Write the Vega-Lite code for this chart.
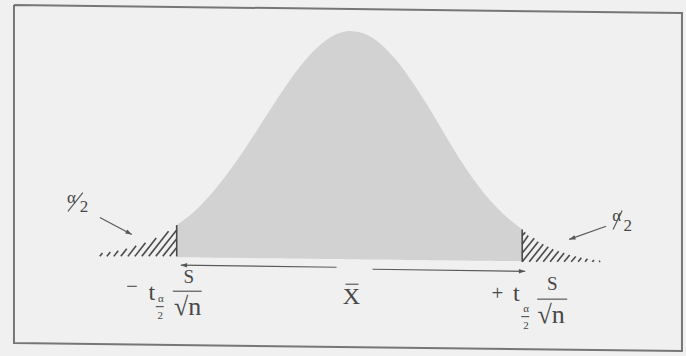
{
  "$schema": "https://vega.github.io/schema/vega-lite/v6.json",
  "width": 686,
  "height": 356,
  "autosize": {"type": "fit", "contains": "padding"},
  "padding": 0,
  "background": "#f0f0f0",
  "config": {"view": {"stroke": null}, "text": {"font": "Liberation Serif", "fill": "#474747", "align": "center", "baseline": "alphabetic"}},
  "datasets": {
    "frame": [
      {"k": 0, "x": -3.841, "y": 1.1145},
      {"k": 1, "x": 3.761, "y": 1.0793},
      {"k": 2, "x": 3.761, "y": -0.4141},
      {"k": 3, "x": -3.841, "y": -0.3789},
      {"k": 4, "x": -3.841, "y": 1.1145}
    ],
    "curve": [
      {"x": -1.989, "y": 0.142, "y2": 0.0},
      {"x": -1.841, "y": 0.184, "y2": -0.0003},
      {"x": -1.693, "y": 0.239, "y2": -0.001},
      {"x": -1.557, "y": 0.298, "y2": -0.0016},
      {"x": -1.386, "y": 0.383, "y2": -0.0024},
      {"x": -1.216, "y": 0.477, "y2": -0.0031},
      {"x": -1.08, "y": 0.558, "y2": -0.0038},
      {"x": -0.966, "y": 0.627, "y2": -0.0043},
      {"x": -0.852, "y": 0.696, "y2": -0.0048},
      {"x": -0.739, "y": 0.761, "y2": -0.0053},
      {"x": -0.625, "y": 0.823, "y2": -0.0059},
      {"x": -0.477, "y": 0.893, "y2": -0.0065},
      {"x": -0.33, "y": 0.947, "y2": -0.0072},
      {"x": -0.17, "y": 0.986, "y2": -0.008},
      {"x": -0.023, "y": 1.0, "y2": -0.0087},
      {"x": 0.148, "y": 0.988, "y2": -0.0094},
      {"x": 0.318, "y": 0.947, "y2": -0.0102},
      {"x": 0.489, "y": 0.88, "y2": -0.011},
      {"x": 0.625, "y": 0.812, "y2": -0.0116},
      {"x": 0.773, "y": 0.727, "y2": -0.0123},
      {"x": 0.92, "y": 0.636, "y2": -0.0129},
      {"x": 1.034, "y": 0.561, "y2": -0.0135},
      {"x": 1.148, "y": 0.487, "y2": -0.014},
      {"x": 1.261, "y": 0.416, "y2": -0.0145},
      {"x": 1.375, "y": 0.351, "y2": -0.015},
      {"x": 1.511, "y": 0.282, "y2": -0.0157},
      {"x": 1.648, "y": 0.222, "y2": -0.0163},
      {"x": 1.795, "y": 0.168, "y2": -0.017},
      {"x": 1.943, "y": 0.123, "y2": -0.0176}
    ],
    "hatch": [
      {"x": -2.864, "y": 0.004, "x2": -2.834, "y2": 0.0185},
      {"x": -2.784, "y": 0.004, "x2": -2.745, "y2": 0.0233},
      {"x": -2.705, "y": 0.004, "x2": -2.655, "y2": 0.0291},
      {"x": -2.625, "y": 0.004, "x2": -2.557, "y2": 0.0374},
      {"x": -2.545, "y": 0.004, "x2": -2.451, "y2": 0.0507},
      {"x": -2.466, "y": 0.004, "x2": -2.344, "y2": 0.0643},
      {"x": -2.386, "y": 0.004, "x2": -2.222, "y2": 0.085},
      {"x": -2.307, "y": 0.004, "x2": -2.082, "y2": 0.1145},
      {"x": -2.227, "y": 0.004, "x2": -1.989, "y2": 0.12},
      {"x": -2.148, "y": 0.004, "x2": -1.989, "y2": 0.0815},
      {"x": -2.068, "y": 0.004, "x2": -1.989, "y2": 0.043},
      {"x": -1.989, "y": 0.004, "x2": -1.989, "y2": 0.142},
      {"x": 1.943, "y": -0.0198, "x2": 1.943, "y2": 0.123},
      {"x": 1.943, "y": 0.0958, "x2": 1.977, "y2": 0.1101},
      {"x": 1.943, "y": 0.0573, "x2": 2.011, "y2": 0.096},
      {"x": 1.943, "y": 0.0187, "x2": 2.08, "y2": 0.0837},
      {"x": 1.943, "y": -0.0198, "x2": 2.125, "y2": 0.0683},
      {"x": 2.023, "y": -0.0198, "x2": 2.182, "y2": 0.0573},
      {"x": 2.102, "y": -0.0198, "x2": 2.239, "y2": 0.0463},
      {"x": 2.182, "y": -0.0198, "x2": 2.295, "y2": 0.0352},
      {"x": 2.261, "y": -0.0198, "x2": 2.358, "y2": 0.0269},
      {"x": 2.341, "y": -0.0198, "x2": 2.42, "y2": 0.0187},
      {"x": 2.42, "y": -0.0198, "x2": 2.483, "y2": 0.0101},
      {"x": 2.5, "y": -0.0198, "x2": 2.553, "y2": 0.0035},
      {"x": 2.58, "y": -0.0198, "x2": 2.616, "y2": -0.0022},
      {"x": 2.659, "y": -0.0198, "x2": 2.685, "y2": -0.007},
      {"x": 2.739, "y": -0.0198, "x2": 2.761, "y2": -0.0123},
      {"x": 2.818, "y": -0.0198, "x2": 2.83, "y2": -0.0163}
    ],
    "strokes": [
      {"part": "bar_left", "x": -2.034, "y": -0.15, "x2": -1.705, "y2": -0.15},
      {"part": "bar_right", "x": 2.114, "y": -0.185, "x2": 2.455, "y2": -0.185},
      {"part": "subbar_left", "x": -2.227, "y": -0.218, "x2": -2.136, "y2": -0.218},
      {"part": "subbar_right", "x": 1.932, "y": -0.262, "x2": 2.023, "y2": -0.262},
      {"part": "xbar", "x": -0.068, "y": -0.119, "x2": 0.08, "y2": -0.119},
      {"part": "slash_left", "x": -3.227, "y": 0.203, "x2": -3.057, "y2": 0.286},
      {"part": "slash_right", "x": 2.977, "y": 0.123, "x2": 3.08, "y2": 0.207},
      {"part": "tail_left", "x": -2.864, "y": 0.176, "x2": -2.5, "y2": 0.101},
      {"part": "tail_right", "x": 2.898, "y": 0.137, "x2": 2.477, "y2": 0.079},
      {"part": "span_left", "x": -0.17, "y": -0.044, "x2": -1.943, "y2": -0.035},
      {"part": "span_right", "x": 0.239, "y": -0.053, "x2": 1.977, "y2": -0.062}
    ],
    "heads": [
      {"arrow": "tail_left", "x": -2.5, "y": 0.101},
      {"arrow": "tail_right", "x": 2.477, "y": 0.079},
      {"arrow": "span_left", "x": -1.943, "y": -0.035},
      {"arrow": "span_right", "x": 1.977, "y": -0.062}
    ],
    "labels": [
      {"role": "sign", "text": "−", "x": -2.5, "y": -0.157},
      {"role": "big", "text": "t", "x": -2.273, "y": -0.189},
      {"role": "sub", "text": "α", "x": -2.17, "y": -0.196},
      {"role": "sub", "text": "2", "x": -2.176, "y": -0.273},
      {"role": "s", "text": "S", "x": -1.852, "y": -0.115},
      {"role": "root", "text": "√n", "x": -1.864, "y": -0.256},
      {"role": "big", "text": "X", "x": 0.0, "y": -0.207},
      {"role": "sign", "text": "+", "x": 1.66, "y": -0.189},
      {"role": "big", "text": "t", "x": 1.875, "y": -0.194},
      {"role": "sub", "text": "α", "x": 1.987, "y": -0.24},
      {"role": "sub", "text": "2", "x": 1.987, "y": -0.317},
      {"role": "s", "text": "S", "x": 2.284, "y": -0.145},
      {"role": "root", "text": "√n", "x": 2.273, "y": -0.291},
      {"role": "half", "text": "α", "x": -3.188, "y": 0.238},
      {"role": "half", "text": "2", "x": -3.045, "y": 0.198},
      {"role": "half", "text": "α", "x": 3.017, "y": 0.159},
      {"role": "half", "text": "2", "x": 3.145, "y": 0.115}
    ]
  },
  "encoding": {
    "x": {"field": "x", "type": "quantitative", "scale": {"domain": [-4, 3.7955], "nice": false, "zero": false}, "axis": null},
    "y": {"field": "y", "type": "quantitative", "scale": {"domain": [-0.43172, 1.13656], "nice": false, "zero": false}, "axis": null}
  },
  "layer": [
    {
      "data": {"name": "frame"},
      "mark": {"type": "line", "stroke": "#767676", "strokeWidth": 2},
      "encoding": {"order": {"field": "k", "type": "quantitative"}}
    },
    {
      "data": {"name": "curve"},
      "mark": {"type": "area", "fill": "#d2d2d2", "interpolate": "monotone"},
      "encoding": {"y2": {"field": "y2"}}
    },
    {
      "data": {"name": "hatch"},
      "mark": {"type": "rule", "stroke": "#4a4a4a", "strokeWidth": 1.6},
      "encoding": {"x2": {"field": "x2"}, "y2": {"field": "y2"}}
    },
    {
      "data": {"name": "strokes"},
      "mark": {"type": "rule", "stroke": "#5a5a5a", "strokeWidth": 1.2},
      "encoding": {"x2": {"field": "x2"}, "y2": {"field": "y2"}}
    },
    {
      "data": {"name": "heads"},
      "transform": [{"filter": "datum.arrow == 'tail_left'"}],
      "mark": {"type": "point", "shape": "M0,0L-2,-0.7L-2,0.7Z", "filled": true, "fill": "#555555", "opacity": 1, "size": 40, "angle": 28}
    },
    {
      "data": {"name": "heads"},
      "transform": [{"filter": "datum.arrow == 'tail_right'"}],
      "mark": {"type": "point", "shape": "M0,0L-2,-0.7L-2,0.7Z", "filled": true, "fill": "#555555", "opacity": 1, "size": 40, "angle": 160.6}
    },
    {
      "data": {"name": "heads"},
      "transform": [{"filter": "datum.arrow == 'span_left'"}],
      "mark": {"type": "point", "shape": "M0,0L-2,-0.7L-2,0.7Z", "filled": true, "fill": "#555555", "opacity": 1, "size": 40, "angle": 180.7}
    },
    {
      "data": {"name": "heads"},
      "transform": [{"filter": "datum.arrow == 'span_right'"}],
      "mark": {"type": "point", "shape": "M0,0L-2,-0.7L-2,0.7Z", "filled": true, "fill": "#555555", "opacity": 1, "size": 40, "angle": 0.75}
    },
    {
      "data": {"name": "labels"},
      "transform": [{"filter": "datum.role == 'big'"}],
      "mark": {"type": "text", "font": "Liberation Serif", "fontSize": 24},
      "encoding": {"text": {"field": "text"}}
    },
    {
      "data": {"name": "labels"},
      "transform": [{"filter": "datum.role == 's'"}],
      "mark": {"type": "text", "font": "Liberation Serif", "fontSize": 19},
      "encoding": {"text": {"field": "text"}}
    },
    {
      "data": {"name": "labels"},
      "transform": [{"filter": "datum.role == 'root'"}],
      "mark": {"type": "text", "font": "Liberation Serif", "fontSize": 26},
      "encoding": {"text": {"field": "text"}}
    },
    {
      "data": {"name": "labels"},
      "transform": [{"filter": "datum.role == 'sign'"}],
      "mark": {"type": "text", "font": "Liberation Serif", "fontSize": 21},
      "encoding": {"text": {"field": "text"}}
    },
    {
      "data": {"name": "labels"},
      "transform": [{"filter": "datum.role == 'sub'"}],
      "mark": {"type": "text", "font": "Liberation Serif", "fontSize": 11},
      "encoding": {"text": {"field": "text"}}
    },
    {
      "data": {"name": "labels"},
      "transform": [{"filter": "datum.role == 'half'"}],
      "mark": {"type": "text", "font": "Liberation Serif", "fontSize": 17},
      "encoding": {"text": {"field": "text"}}
    }
  ]
}
